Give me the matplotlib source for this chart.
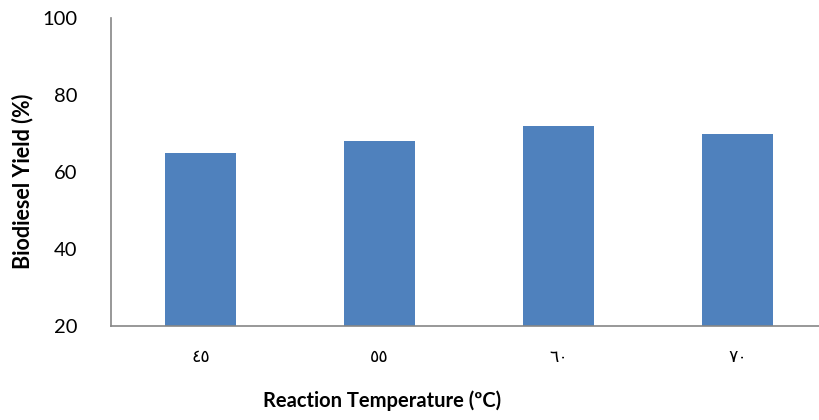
import matplotlib.pyplot as plt

temps = ["٤٥", "٥٥", "٦٠", "٧٠"]
yields = [65, 68, 72, 70]
yticks = [20, 40, 60, 80, 100]

plt.rcParams['font.family'] = ['Lato', 'DejaVu Sans']

fig = plt.figure(figsize=(8.19, 4.2), dpi=100)
# the plot area runs a bit past the right edge of the image, as in the original
ax = fig.add_axes([111 / 819, 1 - 326 / 420, 716 / 819, 308 / 420])

x = range(len(temps))
ax.bar(x, yields, width=0.40, color="#4F81BD")

ax.set_xlim(-0.5, len(temps) - 0.5)
ax.set_ylim(20, 100)
ax.set_yticks(yticks)
ax.set_xticks(list(x))
ax.set_xticklabels(temps, fontsize=12.5, family=['DejaVu Sans'])

for s in ("top", "right"):
    ax.spines[s].set_visible(False)
for s in ("left", "bottom"):
    ax.spines[s].set_color("#868686")
    ax.spines[s].set_linewidth(1.2)

ax.tick_params(axis="y", length=0, pad=24, labelsize=14.5)
ax.tick_params(axis="x", length=0, pad=16)

ax.set_ylabel("Biodiesel Yield (%)", fontsize=15.5, fontweight="bold")
ax.set_xlabel("Reaction Temperature (ºC)", fontsize=14.5, fontweight="bold")
ax.yaxis.set_label_coords((33 - 111) / 716, 0.47)
ax.xaxis.set_label_coords((382 - 111) / 716, -(390 - 326) / 308)

fig.savefig("out.png", dpi=100)
